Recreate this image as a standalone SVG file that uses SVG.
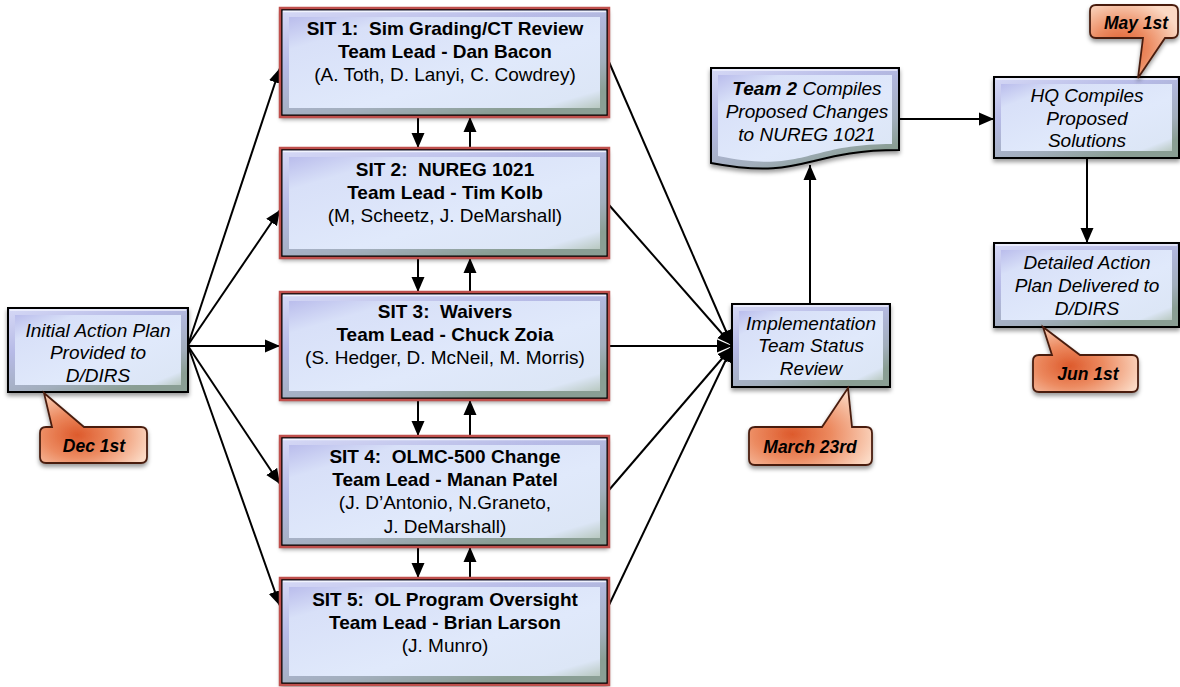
<svg xmlns="http://www.w3.org/2000/svg" width="1180" height="687" viewBox="0 0 1180 687">
<style>
.frame{fill:url(#gFrame);stroke:#000;stroke-width:2;filter:url(#sh)}
.red{fill:none;stroke:#C0504D;stroke-width:2.5}
.face{fill:url(#gFace)}
.hl{fill:none;stroke:#F4F6FF;stroke-width:1.5;opacity:0.9}
.t{font-family:"Liberation Sans",Arial,sans-serif;font-size:19px;text-anchor:middle;fill:#000;white-space:pre}
.b{font-weight:bold}
.i{font-style:italic}
.c{font-family:"Liberation Sans",Arial,sans-serif;font-size:17.5px;font-weight:bold;font-style:italic;text-anchor:middle;fill:#000}
.call{fill:url(#gCall);stroke:#4A1E10;stroke-width:1.8;filter:url(#sh)}
.conn{stroke:#000;stroke-width:2;fill:none;marker-end:url(#ah)}
</style>
<defs>
<linearGradient id="gFrame" x1="0" y1="0" x2="0.6" y2="1">
<stop offset="0" stop-color="#D6D9F6"/>
<stop offset="0.4" stop-color="#B6BAE6"/>
<stop offset="0.8" stop-color="#A2AEBC"/>
<stop offset="1" stop-color="#8A9E94"/>
</linearGradient>
<linearGradient id="gFace" x1="0" y1="0" x2="1" y2="1">
<stop offset="0" stop-color="#BABDEC"/>
<stop offset="0.18" stop-color="#D8E0F8"/>
<stop offset="0.6" stop-color="#E0E9FB"/>
<stop offset="0.9" stop-color="#DCE6F6"/>
<stop offset="1" stop-color="#B8C8C0"/>
</linearGradient>
<radialGradient id="gCall" cx="0.35" cy="0.6" r="0.7">
<stop offset="0" stop-color="#DD5A2C"/>
<stop offset="0.45" stop-color="#EC8A60"/>
<stop offset="1" stop-color="#FBD9C4"/>
</radialGradient>
<filter id="sh" x="-10%" y="-10%" width="120%" height="130%">
<feDropShadow dx="0" dy="3" stdDeviation="2" flood-color="#000" flood-opacity="0.4"/>
</filter>
<marker id="ah" markerUnits="userSpaceOnUse" markerWidth="15" markerHeight="15" refX="15" refY="7.5" orient="auto">
<path d="M0,1 L15,7.5 L0,14 z" fill="#000"/>
</marker>
</defs>

<g id="connectors">
<path class="conn" d="M188,345 L280,68"/>
<path class="conn" d="M188,345 L280,210"/>
<path class="conn" d="M188,346 L280,346"/>
<path class="conn" d="M188,346 L280,484"/>
<path class="conn" d="M188,346 L280,606"/>
<path class="conn" d="M609,62 L732,345"/>
<path class="conn" d="M609,205 L732,345"/>
<path class="conn" d="M609,346 L732,346"/>
<path class="conn" d="M609,490 L732,347"/>
<path class="conn" d="M609,605 L732,347"/>
<path class="conn" d="M418,117 L418,148"/>
<path class="conn" d="M470,148 L470,117"/>
<path class="conn" d="M418,258 L418,292"/>
<path class="conn" d="M470,292 L470,258"/>
<path class="conn" d="M418,400 L418,436"/>
<path class="conn" d="M470,436 L470,400"/>
<path class="conn" d="M418,547 L418,578"/>
<path class="conn" d="M470,578 L470,547"/>
<path class="conn" d="M810,304 L810,165"/>
<path class="conn" d="M899,119 L994,119"/>
<path class="conn" d="M1087,158 L1087,243"/>
</g>

<g id="initial">
<rect class="frame" x="8" y="308" width="180" height="84"/>
<rect class="face" x="15" y="315" width="166" height="70"/>
<line class="hl" x1="10" y1="310" x2="186" y2="310"/>
<text class="t i" x="98" y="337">Initial Action Plan</text>
<text class="t i" x="98" y="359">Provided to</text>
<text class="t i" x="98" y="382">D/DIRS</text>
</g>

<g id="sit1">
<rect class="frame" x="281.5" y="9.5" width="326" height="106"/>
<rect class="red" x="280" y="8" width="329" height="109"/>
<rect class="face" x="289" y="17" width="311" height="91"/>
<line class="hl" x1="283" y1="11.5" x2="606" y2="11.5"/>
<text class="t b" x="445" y="35" xml:space="preserve">SIT 1:  Sim Grading/CT Review</text>
<text class="t b" x="445" y="58">Team Lead - Dan Bacon</text>
<text class="t" x="445" y="81">(A. Toth, D. Lanyi, C. Cowdrey)</text>
</g>

<g id="sit2">
<rect class="frame" x="281.5" y="149.5" width="326" height="107"/>
<rect class="red" x="280" y="148" width="329" height="110"/>
<rect class="face" x="289" y="157" width="311" height="92"/>
<line class="hl" x1="283" y1="151.5" x2="606" y2="151.5"/>
<text class="t b" x="445" y="176" xml:space="preserve">SIT 2:  NUREG 1021</text>
<text class="t b" x="445" y="199">Team Lead - Tim Kolb</text>
<text class="t" x="445" y="222">(M, Scheetz, J. DeMarshall)</text>
</g>

<g id="sit3">
<rect class="frame" x="281.5" y="293.5" width="326" height="105"/>
<rect class="red" x="280" y="292" width="329" height="108"/>
<rect class="face" x="289" y="301" width="311" height="90"/>
<line class="hl" x1="283" y1="295.5" x2="606" y2="295.5"/>
<text class="t b" x="445" y="318" xml:space="preserve">SIT 3:  Waivers</text>
<text class="t b" x="445" y="341">Team Lead - Chuck Zoia</text>
<text class="t" x="445" y="364">(S. Hedger, D. McNeil, M. Morris)</text>
</g>

<g id="sit4">
<rect class="frame" x="281.5" y="437.5" width="326" height="108"/>
<rect class="red" x="280" y="436" width="329" height="111"/>
<rect class="face" x="289" y="445" width="311" height="93"/>
<line class="hl" x1="283" y1="439.5" x2="606" y2="439.5"/>
<text class="t b" x="445" y="463" xml:space="preserve">SIT 4:  OLMC-500 Change</text>
<text class="t b" x="445" y="486">Team Lead - Manan Patel</text>
<text class="t" x="445" y="509">(J. D’Antonio, N.Graneto,</text>
<text class="t" x="445" y="533">J. DeMarshall)</text>
</g>

<g id="sit5">
<rect class="frame" x="281.5" y="579.5" width="326" height="104"/>
<rect class="red" x="280" y="578" width="329" height="107"/>
<rect class="face" x="289" y="587" width="311" height="89"/>
<line class="hl" x1="283" y1="581.5" x2="606" y2="581.5"/>
<text class="t b" x="445" y="606" xml:space="preserve">SIT 5:  OL Program Oversight</text>
<text class="t b" x="445" y="629">Team Lead - Brian Larson</text>
<text class="t" x="445" y="652">(J. Munro)</text>
</g>

<g id="implementation">
<rect class="frame" x="732" y="304" width="158" height="83"/>
<rect class="face" x="739" y="311" width="144" height="69"/>
<line class="hl" x1="734" y1="306" x2="888" y2="306"/>
<text class="t i" x="811" y="330">Implementation</text>
<text class="t i" x="811" y="352">Team Status</text>
<text class="t i" x="811" y="375">Review</text>
</g>

<g id="team2">
<path class="frame" d="M711,68 L899,68 L899,150 C805,150 805,181 711,163 Z"/>
<path class="face" d="M718,75 L892,75 L892,144 C805,144 805,174 718,156 Z"/>
<line class="hl" x1="713" y1="70" x2="897" y2="70"/>
<text class="t i" x="807" y="95"><tspan class="b">Team 2</tspan> Compiles</text>
<text class="t i" x="807" y="118">Proposed Changes</text>
<text class="t i" x="807" y="141">to NUREG 1021</text>
</g>

<g id="hq">
<rect class="frame" x="994" y="77" width="185" height="81"/>
<rect class="face" x="1001" y="84" width="171" height="67"/>
<line class="hl" x1="996" y1="79" x2="1177" y2="79"/>
<text class="t i" x="1087" y="102">HQ Compiles</text>
<text class="t i" x="1087" y="125">Proposed</text>
<text class="t i" x="1087" y="147">Solutions</text>
</g>

<g id="detailed">
<rect class="frame" x="994" y="243" width="185" height="84"/>
<rect class="face" x="1001" y="250" width="171" height="70"/>
<line class="hl" x1="996" y1="245" x2="1177" y2="245"/>
<text class="t i" x="1087" y="269">Detailed Action</text>
<text class="t i" x="1087" y="292">Plan Delivered to</text>
<text class="t i" x="1087" y="315">D/DIRS</text>
</g>

<g id="callout-dec">
<path class="call" d="M46,427 L52,427 L44,393 L84,427 L141,427 Q147,427 147,433 L147,457 Q147,463 141,463 L46,463 Q40,463 40,457 L40,433 Q40,427 46,427 Z"/>
<text class="c" x="94" y="452">Dec 1st</text>
</g>

<g id="callout-mar">
<path class="call" d="M755,427 L822,427 L848,388 L852,427 L866,427 Q872,427 872,433 L872,459 Q872,465 866,465 L755,465 Q749,465 749,459 L749,433 Q749,427 755,427 Z"/>
<text class="c" x="810" y="453">March 23rd</text>
</g>

<g id="callout-may">
<path class="call" d="M1096,5 L1172,5 Q1178,5 1178,11 L1178,32 Q1178,38 1172,38 L1165,38 L1138,78 L1143,38 L1096,38 Q1090,38 1090,32 L1090,11 Q1090,5 1096,5 Z"/>
<text class="c" x="1136" y="29">May 1st</text>
</g>

<g id="callout-jun">
<path class="call" d="M1039,355 L1052,355 L1043,327 L1080,355 L1132,355 Q1138,355 1138,361 L1138,386 Q1138,392 1132,392 L1039,392 Q1033,392 1033,386 L1033,361 Q1033,355 1039,355 Z"/>
<text class="c" x="1088" y="380">Jun 1st</text>
</g>
</svg>
